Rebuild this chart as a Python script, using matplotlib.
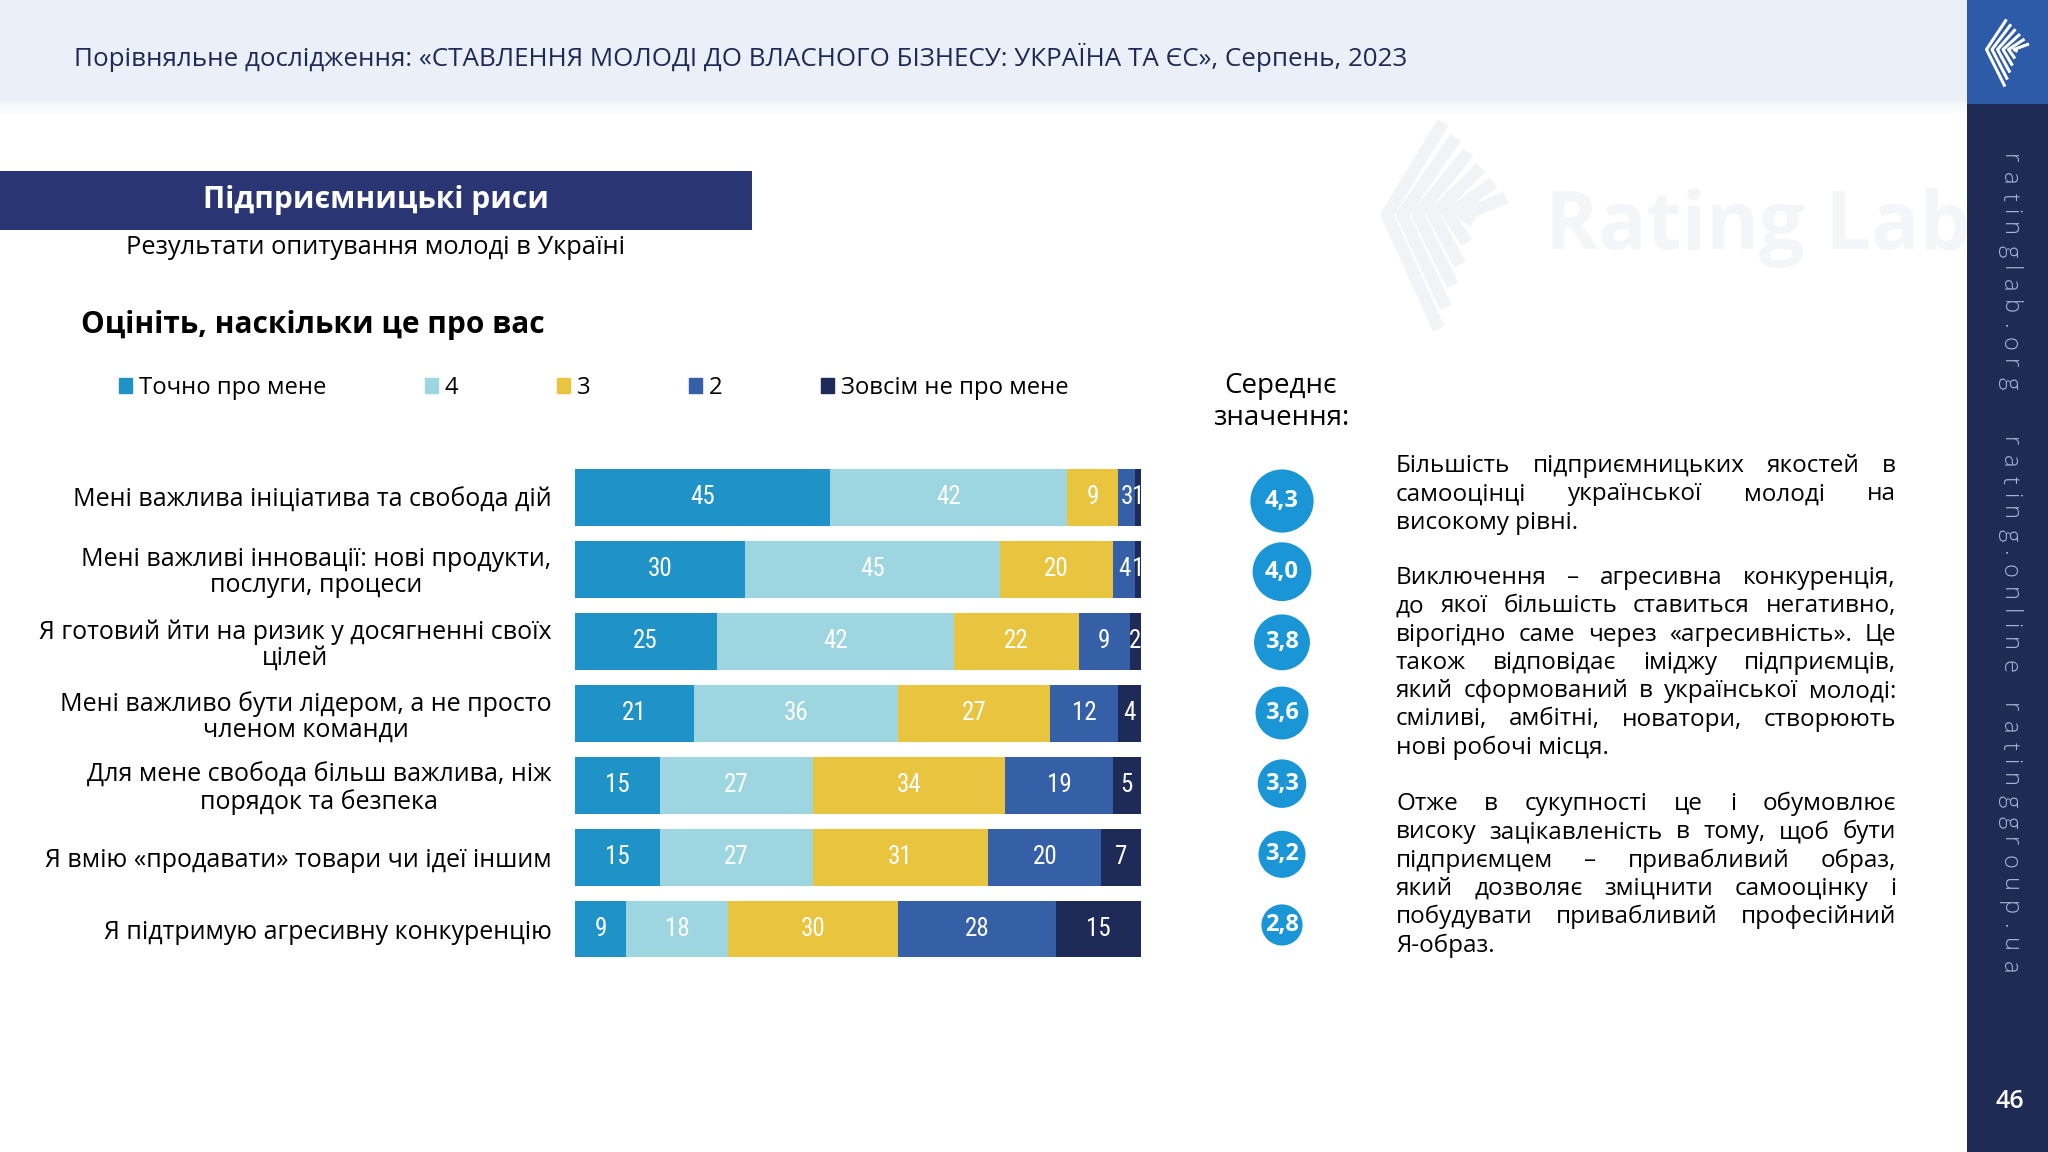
import matplotlib.pyplot as plt
from matplotlib.patches import Patch, Rectangle
import numpy as np

plt.rcParams['font.family'] = ['Open Sans', 'DejaVu Sans']

# --- data ---
categories = [
    'Мені важлива ініціатива та свобода дій',
    'Мені важливі інновації: нові продукти,\nпослуги, процеси',
    'Я готовий йти на ризик у досягненні своїх\nцілей',
    'Мені важливо бути лідером, а не просто\nчленом команди',
    'Для мене свобода більш важлива, ніж\nпорядок та безпека',
    'Я вмію «продавати» товари чи ідеї іншим',
    'Я підтримую агресивну конкуренцію',
]
series_names = ['Точно про мене', '4', '3', '2', 'Зовсім не про мене']
s5 = [45, 30, 25, 21, 15, 15, 9]
s4 = [42, 45, 42, 36, 27, 27, 18]
s3 = [9, 20, 22, 27, 34, 31, 30]
s2 = [3, 4, 9, 12, 19, 20, 28]
s1 = [1, 1, 2, 4, 5, 7, 15]
means = [4.3, 4.0, 3.8, 3.6, 3.3, 3.2, 2.8]

colors = ['#1f93c8', '#9dd5e0', '#e8c43f', '#3560a8', '#1e2a57']
navy = '#1e2a57'

header = ('Порівняльне дослідження: «СТАВЛЕННЯ МОЛОДІ ДО ВЛАСНОГО БІЗНЕСУ: '
          'УКРАЇНА ТА ЄС», Серпень, 2023')
paragraphs = [
    ['Більшість підприємницьких якостей в',
     'самооцінці української молоді на',
     'високому рівні.'],
    ['Виключення – агресивна конкуренція,',
     'до якої більшість ставиться негативно,',
     'вірогідно саме через «агресивність». Це',
     'також відповідає іміджу підприємців,',
     'який сформований в української молоді:',
     'сміливі, амбітні, новатори, створюють',
     'нові робочі місця.'],
    ['Отже в сукупності це і обумовлює',
     'високу зацікавленість  в тому, щоб бути',
     'підприємцем – привабливий образ,',
     'який дозволяє зміцнити самооцінку і',
     'побудувати привабливий професійний',
     'Я-образ.'],
]

W, H = 2048, 1152
fig = plt.figure(figsize=(W / 100, H / 100), dpi=100)
fig.patch.set_facecolor('white')

# background / decoration layer in pixel units
bg = fig.add_axes([0, 0, 1, 1], zorder=0)
bg.set_xlim(0, W)
bg.set_ylim(H, 0)
bg.axis('off')
renderer = fig.canvas.get_renderer()


def text_w(s, **kw):
    t = bg.text(0, 0, s, **kw)
    w = t.get_window_extent(renderer).width
    t.remove()
    return w


def fit_size(s, width, base=16, **kw):
    return base * width / text_w(s, fontsize=base, **kw)


# header band with soft shadow
bg.add_patch(Rectangle((0, 0), 1967, 102, color='#ebeff8', lw=0))
for i in range(6):
    bg.add_patch(Rectangle((0, 102 + i * 2), 1967, 2, color='#e4e8f2', alpha=0.35 - i * 0.05, lw=0))
bg.text(74, 57, header, fontsize=fit_size(header, 1333), color=navy, va='center', ha='left')

# right sidebar
bg.add_patch(Rectangle((1967, 0), 81, H, color='#1f2b55', lw=0))
bg.add_patch(Rectangle((1967, 0), 81, 104, color='#2e5ba8', lw=0))


def chevrons(x0, y0, w, h, color, lw, n=6, alpha=1.0):
    for i in range(n):
        top = (x0 + w * (0.45 + 0.09 * i), y0 + h * (0.02 + 0.07 * i))
        left = (x0 + w * (0.05 + 0.11 * i), y0 + h * 0.45)
        bot = (x0 + w * (0.42 + 0.05 * i), y0 + h * (0.98 - 0.1 * i))
        bg.plot([top[0], left[0], bot[0]], [top[1], left[1], bot[1]],
                color=color, lw=lw, alpha=alpha, solid_capstyle='butt')


chevrons(1984, 18, 50, 70, 'white', 2.2)

# faint watermark
chevrons(1380, 118, 140, 215, '#f1f2f5', 9, alpha=0.9)
bg.text(1545, 228, 'Rating Lab', fontsize=58, fontweight='bold', color='#f4f5f8',
        va='center', ha='left')

# sidebar vertical tracked text
side_kw = dict(fontsize=17, color='#a9b3d3', fontweight='light')
for s, (y0, y1) in zip(['ratinglab.org', 'rating.online', 'ratinggroup.ua'],
                       [(154, 389), (437, 673), (703, 973)]):
    ws = [text_w(c, **side_kw) for c in s]
    gap = (y1 - y0 - sum(ws)) / (len(s) - 1)
    cur = y0
    for c, w in zip(s, ws):
        bg.text(2009, cur + w / 2, c, rotation=270, ha='center', va='center',
                rotation_mode='anchor', **side_kw)
        cur += w + gap
bg.text(2010, 1101, '46', fontsize=18, color='white', fontweight='semibold',
        ha='center', va='center')

# title block
bg.add_patch(Rectangle((0, 171), 752, 59, color='#2a3673', lw=0))
bg.text(376, 200, 'Підприємницькі риси', fontsize=21.5, fontweight='bold',
        color='white', ha='center', va='center')
sub = 'Результати опитування молоді в Україні'
bg.text(376, 248, sub, fontsize=fit_size(sub, 500), color='black', ha='center', va='center')
bg.text(81, 325, 'Оцініть, наскільки це про вас', fontsize=21.5,
        fontweight='bold', color='black', ha='left', va='center')
bg.text(1281, 402, 'Середнє\nзначення:', fontsize=20, color='black',
        ha='center', va='center', linespacing=1.15)

# --- stacked bars ---
ax = fig.add_axes([575 / W, 1 - 965 / H, (1141 - 575) / W, (965 - 461.5) / H], zorder=2)
ax.patch.set_alpha(0)
y = np.arange(len(categories))
left = np.zeros(len(categories))
vals = [s5, s4, s3, s2, s1]
for name, v, c in zip(series_names, vals, colors):
    v = np.array(v, dtype=float)
    ax.barh(y, v, left=left, height=0.79, color=c, label=name)
    for yi, (l, vi) in enumerate(zip(left, v)):
        ax.text(l + vi / 2, yi, f'{int(vi)}', ha='center', va='center',
                color='white', fontsize=18,
                family=['Liberation Sans Narrow', 'Roboto Condensed', 'DejaVu Sans'])
    left += v
ax.set_xlim(0, 100)
ax.set_ylim(len(categories) - 0.5, -0.5)
lab_size = fit_size(categories[0], 479)
ax.set_yticks(y, categories)
ax.tick_params(axis='y', length=0, pad=17, labelsize=lab_size)
for t in ax.get_yticklabels():
    t.set_multialignment('center')
    t.set_linespacing(1.05)
ax.set_xticks([])
for sp in ax.spines.values():
    sp.set_visible(False)

# legend
leg_size = fit_size(series_names[0], 187)
handles = [Patch(color=c) for c in colors]
fig.legend(handles, series_names, loc='center left',
           bbox_to_anchor=(119 / W, 1 - 388 / H), ncol=5, frameon=False,
           fontsize=leg_size, handlelength=0.55, handleheight=0.55,
           handletextpad=0.27, columnspacing=99 / (leg_size * 100 / 72),
           borderpad=0, borderaxespad=0)

# --- mean circles ---
ax2 = fig.add_axes([1240 / W, 1 - 960.3 / H, 84 / W, (960.3 - 465.7) / H], zorder=2)
ax2.axis('off')
ax2.set_xlim(-1, 1)
ax2.set_ylim(len(means) - 0.5, -0.5)
diam_pt = np.array(means) * 14.7 * 72 / 100
ax2.scatter(np.zeros(len(means)), y, s=diam_pt ** 2, color='#1a96d6', lw=0)
for yi, m in zip(y, means):
    ax2.text(0, yi, f'{m:.1f}'.replace('.', ','), ha='center', va='center',
             color='white', fontsize=17, fontweight='bold')

# --- justified commentary ---
para_kw = dict(fontsize=17.5, color='black', va='center', ha='left')
x0, x1 = 1396, 1896
line_h = 28.3
for lines, ystart in zip(paragraphs, [466, 578, 804]):
    for i, line in enumerate(lines):
        yy = ystart + i * line_h
        words = line.split()
        if i == len(lines) - 1 or len(words) < 2:
            bg.text(x0, yy, line, **para_kw)
            continue
        ws = [text_w(wd, **para_kw) for wd in words]
        gap = (x1 - x0 - sum(ws)) / (len(words) - 1)
        cx = x0
        for wd, w in zip(words, ws):
            bg.text(cx, yy, wd, **para_kw)
            cx += w + gap

fig.savefig('out.png', dpi=100)
